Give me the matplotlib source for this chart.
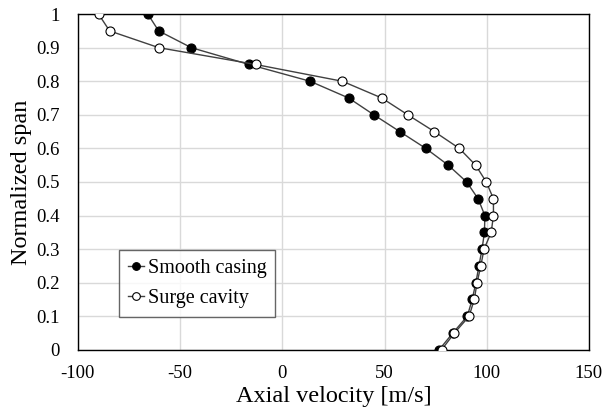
import numpy as np
import matplotlib
matplotlib.use("Agg")
import matplotlib.pyplot as plt

plt.rcParams["font.family"] = ["Liberation Serif", "DejaVu Serif"]
plt.rcParams["axes.unicode_minus"] = False

span = [1.0, 0.95, 0.9, 0.85, 0.8, 0.75, 0.7, 0.65, 0.6, 0.55, 0.5,
        0.45, 0.4, 0.35, 0.3, 0.25, 0.2, 0.15, 0.1, 0.05, 0.0]
smooth = [-65.8, -60.5, -44.5, -16.3, 13.6, 32.5, 44.8, 57.5, 70.2, 81.2, 90.2,
          95.8, 99.1, 98.9, 97.7, 96.2, 94.7, 92.9, 90.5, 83.4, 76.7]
surge = [-89.9, -84.5, -60.4, -13.1, 29.4, 48.7, 61.4, 74.4, 86.6, 94.6, 99.8,
         103.3, 103.3, 102.2, 98.7, 97.1, 95.3, 93.9, 91.4, 84.2, 77.9]

fig = plt.figure(figsize=(6.04, 4.15), dpi=100)
ax = fig.add_axes([0.129, 0.157, 0.846, 0.809])

ax.plot(smooth, span, color="#404040", lw=1.0, marker="o", ms=6.5,
        mfc="black", mec="black", mew=0.8, label="Smooth casing", zorder=3)
ax.plot(surge, span, color="#404040", lw=1.0, marker="o", ms=6.5,
        mfc="white", mec="black", mew=0.8, label="Surge cavity", zorder=3)

ax.set_xlim(-100, 150)
ax.set_ylim(0, 1)
ax.set_xticks(np.arange(-100, 151, 50))
ax.set_yticks(np.arange(0, 1.01, 0.1))
ax.set_yticklabels(["0", "0.1", "0.2", "0.3", "0.4", "0.5", "0.6", "0.7", "0.8", "0.9", "1"])
ax.tick_params(length=0, labelsize=13.5)
ax.tick_params(axis="x", pad=11)
ax.tick_params(axis="y", pad=13)
ax.grid(True, color="#d9d9d9", lw=1.0)
ax.set_axisbelow(True)
for s in ax.spines.values():
    s.set_color("black")
    s.set_linewidth(1.0)

ax.set_xlabel("Axial velocity [m/s]", fontsize=17.5, labelpad=3)
ax.set_ylabel("Normalized span", fontsize=17.5, labelpad=3)

leg = ax.legend(loc="lower left", bbox_to_anchor=(0.081, 0.097), fontsize=14.5,
                frameon=True, fancybox=False, edgecolor="#404040",
                handlelength=0.8, handletextpad=0.15, borderpad=0.45,
                borderaxespad=0, labelspacing=0.55, markerscale=0.85)
leg.get_frame().set_linewidth(1.0)

fig.savefig("out.png", dpi=100)
